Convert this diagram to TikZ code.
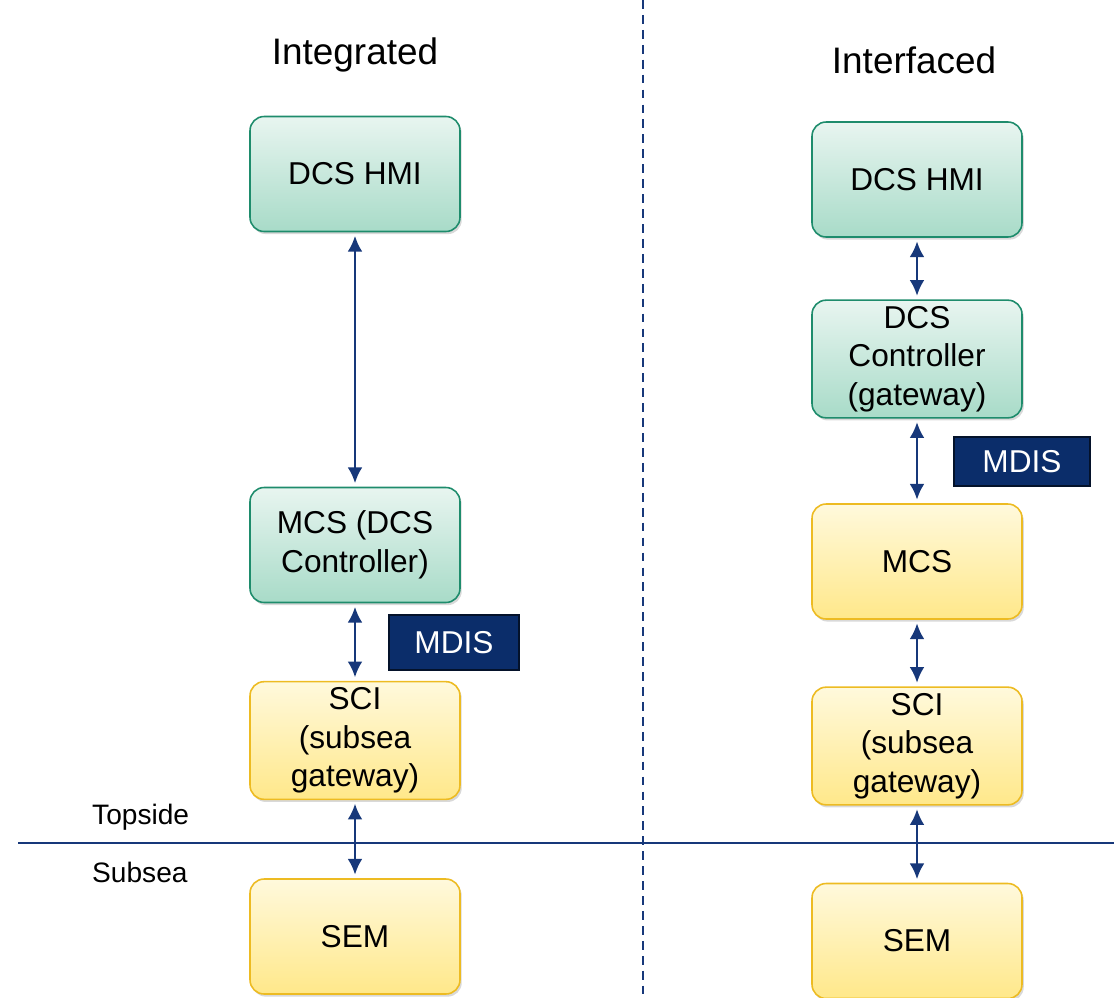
\documentclass[tikz,border=0pt]{standalone}
\usepackage{fontspec}
\setmainfont{Liberation Sans}
\usetikzlibrary{arrows.meta,shadows}
\definecolor{navy}{HTML}{17387A}
\definecolor{mdisblue}{HTML}{0B2D6A}
\definecolor{greenedge}{HTML}{1E8C6C}
\definecolor{greentop}{HTML}{E8F5F0}
\definecolor{greenbot}{HTML}{A8DBC8}
\definecolor{yellowedge}{HTML}{EDBB22}
\definecolor{yellowtop}{HTML}{FFF9DC}
\definecolor{yellowbot}{HTML}{FFE88A}
\tikzset{
  box/.style={rounded corners=8pt, line width=0.9pt, minimum width=4.2cm,
    minimum height=2.3cm, align=center, font=\fontsize{18}{22}\selectfont,
    drop shadow={shadow xshift=1pt,shadow yshift=-1.5pt,opacity=0.3}},
  dcsbox/.style={box, draw=greenedge, top color=greentop, bottom color=greenbot},
  seabox/.style={box, draw=yellowedge, top color=yellowtop, bottom color=yellowbot},
  tagbox/.style={draw=black!60!mdisblue, line width=1pt, fill=mdisblue, text=white,
    font=\fontsize{18}{22}\selectfont, inner sep=0pt},
  link/.style={navy, line width=1.5pt, {Latex[length=9pt,width=8.5pt]}-{Latex[length=9pt,width=8.5pt]},
    shorten <=2pt, shorten >=2pt},
  title/.style={font=\fontsize{21}{25}\selectfont},
  side/.style={font=\fontsize{16}{19}\selectfont, anchor=west}
}
\begin{document}
\begin{tikzpicture}[x=0.02cm, y=-0.02cm]
    \useasboundingbox (0,0) rectangle (1114,997);

    % split lines
    \draw[navy, line width=0.8pt] (18,843) -- (1114,843);
    \draw[navy, line width=0.8pt, dash pattern=on 5pt off 3.5pt] (643,0) -- (643,997);

    \node[title] (tInt) at (355,55) {Integrated};
    \node[title] (tIfc) at (914,60) {Interfaced};
    \node[side] (top) at (86,817) {Topside};
    \node[side] (sub) at (86,872) {Subsea};

    % integrated
    \node[dcsbox] (lhmi) at (355,174) {DCS HMI};
    \node[dcsbox] (lmcs) at (355,545) {MCS (DCS\\Controller)};
    \node[seabox] (lsci) at (355,740.5) {SCI\\(subsea\\gateway)};
    \node[seabox] (lsem) at (355,936.5) {SEM};
    \node[tagbox, minimum width=2.6cm, minimum height=1.1cm] (lmdis) at (454,642.5) {MDIS};

    \draw[link] (lhmi) -- (lmcs);
    \draw[link] (lmcs) -- (lsci);
    \draw[link] (lsci) -- (lsem);

    % interfaced
    \node[dcsbox] (rhmi) at (917,179.5) {DCS HMI};
    \node[dcsbox] (rctl) at (917,359) {DCS\\Controller\\(gateway)};
    \node[seabox] (rmcs) at (917,561.5) {MCS};
    \node[seabox] (rsci) at (917,746) {SCI\\(subsea\\gateway)};
    \node[seabox] (rsem) at (917,941) {SEM};
    \node[tagbox, minimum width=2.72cm, minimum height=0.98cm] (rmdis) at (1022,461.5) {MDIS};

    \draw[link] (rhmi) -- (rctl);
    \draw[link] (rctl) -- (rmcs);
    \draw[link] (rmcs) -- (rsci);
    \draw[link] (rsci) -- (rsem);
\end{tikzpicture}
\end{document}
